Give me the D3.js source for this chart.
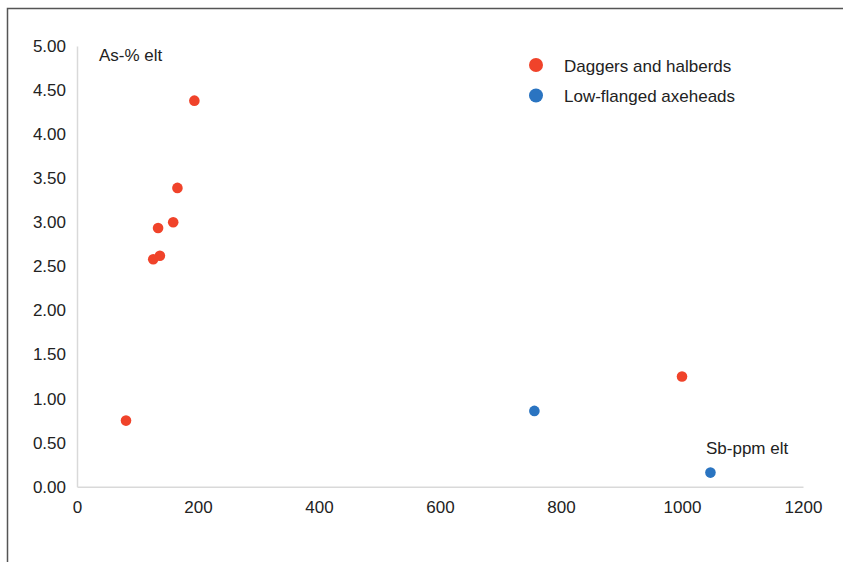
<!DOCTYPE html>
<html><head><meta charset="utf-8">
<script src="https://cdn.jsdelivr.net/npm/d3@7"></script>
<style>body{margin:0;background:#fff}svg{display:block}text{font-family:"Liberation Sans",Arial,sans-serif;fill:#222}</style>
</head><body><svg id="c" width="843" height="562"></svg>
<script>
const seriesNames = ["Daggers and halberds", "Low-flanged axeheads"];
const daggersSb = [194, 166, 159, 134, 137, 126, 81, 1000];
const daggersAs = [4.38, 3.39, 3.00, 2.935, 2.62, 2.58, 0.75, 1.25];
const axeSb = [756, 1047];
const axeAs = [0.86, 0.16];
const xTicks = [0, 200, 400, 600, 800, 1000, 1200];
const yTicks = [0, 0.5, 1, 1.5, 2, 2.5, 3, 3.5, 4, 4.5, 5];
const colors = ["#f0432a", "#2a74c1"];

const svg = d3.select("#c");
svg.append("rect").attr("x",7.5).attr("y",8.5).attr("width",900).attr("height",700)
  .attr("fill","none").attr("stroke","#555").attr("stroke-width",1.5);

const x = d3.scaleLinear().domain([0,1200]).range([77,803]);
const y = d3.scaleLinear().domain([0,5]).range([486.7,46]);

const gx = svg.append("g").attr("transform","translate(0,486.7)")
  .call(d3.axisBottom(x).tickValues(xTicks).tickSize(0).tickPadding(14).tickFormat(d3.format("d")));
gx.select(".domain").attr("stroke","#d9d9d9").attr("stroke-width",1.5);
gx.selectAll("text").attr("font-size",17).attr("font-family","Liberation Sans, Arial, sans-serif").attr("fill","#222");

const gy = svg.append("g").attr("transform","translate(77,0)")
  .call(d3.axisLeft(y).tickValues(yTicks).tickSize(0).tickPadding(11).tickFormat(d3.format(".2f")));
gy.select(".domain").attr("stroke","#d9d9d9").attr("stroke-width",1.5);
gy.selectAll("text").attr("font-size",17).attr("font-family","Liberation Sans, Arial, sans-serif").attr("fill","#222");

const pts = [
  ...daggersSb.map((v,i)=>({sb:v, as:daggersAs[i], s:0})),
  ...axeSb.map((v,i)=>({sb:v, as:axeAs[i], s:1}))
];
svg.append("g").selectAll("circle").data(pts).join("circle")
  .attr("cx",d=>x(d.sb)).attr("cy",d=>y(d.as)).attr("r",5.3)
  .attr("fill",d=>colors[d.s]);

svg.append("text").attr("x",99).attr("y",61).attr("font-size",17).text("As-% elt");
svg.append("text").attr("x",706).attr("y",454).attr("font-size",17).text("Sb-ppm elt");

const lg = svg.append("g");
seriesNames.forEach((n,i)=>{
  lg.append("circle").attr("cx",536).attr("cy",65+i*30.5).attr("r",7).attr("fill",colors[i]);
  lg.append("text").attr("x",564).attr("y",71.5+i*30.5).attr("font-size",17).text(n);
});
</script></body></html>
